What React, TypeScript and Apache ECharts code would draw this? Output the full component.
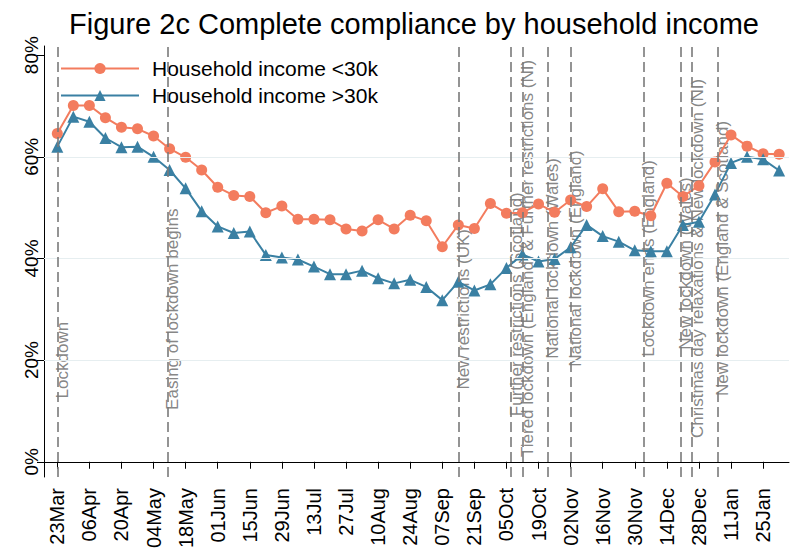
import React, { useEffect, useRef } from 'react';
import * as echarts from 'echarts';

// Survey wave dates (weekly)
const waveDates = [
  '2020-03-23', '2020-03-30', '2020-04-06', '2020-04-13', '2020-04-20', '2020-04-27',
  '2020-05-04', '2020-05-11', '2020-05-18', '2020-05-25', '2020-06-01', '2020-06-08',
  '2020-06-15', '2020-06-22', '2020-06-29', '2020-07-06', '2020-07-13', '2020-07-20',
  '2020-07-27', '2020-08-03', '2020-08-10', '2020-08-17', '2020-08-24', '2020-08-31',
  '2020-09-07', '2020-09-14', '2020-09-21', '2020-09-28', '2020-10-05', '2020-10-12',
  '2020-10-19', '2020-10-26', '2020-11-02', '2020-11-09', '2020-11-16', '2020-11-23',
  '2020-11-30', '2020-12-07', '2020-12-14', '2020-12-21', '2020-12-28', '2021-01-04',
  '2021-01-11', '2021-01-18', '2021-01-25', '2021-02-01',
];

// Complete compliance (%), household income <30k
const incomeUnder30k = [
  64.6, 70.1, 70.1, 67.7, 65.8, 65.5, 64.1, 61.6, 59.9, 57.4,
  54.0, 52.4, 52.2, 49.0, 50.3, 47.7, 47.7, 47.6, 45.8, 45.4,
  47.6, 45.8, 48.5, 47.4, 42.3, 46.6, 45.9, 50.8, 48.9, 49.0,
  50.7, 49.1, 51.5, 50.2, 53.7, 49.2, 49.3, 48.4, 54.8, 52.2,
  54.3, 59.0, 64.3, 62.1, 60.6, 60.5,
];

// Complete compliance (%), household income >30k
const incomeOver30k = [
  62.0, 67.9, 66.9, 63.7, 61.9, 62.0, 60.0, 57.4, 53.8, 49.3,
  46.3, 45.0, 45.3, 40.7, 40.2, 39.8, 38.4, 36.9, 36.9, 37.6,
  36.1, 35.1, 35.8, 34.4, 31.8, 35.4, 33.7, 34.9, 38.1, 40.8,
  39.4, 39.9, 42.2, 46.6, 44.4, 43.3, 41.6, 41.4, 41.4, 46.6,
  47.2, 52.6, 58.8, 60.0, 59.5, 57.3,
];

// X-axis tick dates (two-weekly)
const xTickDates = [
  '2020-03-23', '2020-04-06', '2020-04-20', '2020-05-04', '2020-05-18', '2020-06-01',
  '2020-06-15', '2020-06-29', '2020-07-13', '2020-07-27', '2020-08-10', '2020-08-24',
  '2020-09-07', '2020-09-21', '2020-10-05', '2020-10-19', '2020-11-02', '2020-11-16',
  '2020-11-30', '2020-12-14', '2020-12-28', '2021-01-11', '2021-01-25',
];
const monthNames = ['Jan', 'Feb', 'Mar', 'Apr', 'May', 'Jun', 'Jul', 'Aug', 'Sep', 'Oct', 'Nov', 'Dec'];

// Y-axis ticks and gridlines (%)
const yTicks = [0, 20, 40, 60, 80];
const yGridValues = [20, 40, 60];

// Policy events
const eventDates = [
  '2020-03-23', '2020-05-10', '2020-09-14', '2020-10-07', '2020-10-12', '2020-10-23',
  '2020-11-02', '2020-12-04', '2020-12-20', '2020-12-25', '2021-01-05',
];
const eventLabels = [
  'Lockdown',
  'Easing of lockdown begins',
  'New restrictions (UK)',
  'Further restrictions (Scotland)',
  'Tiered lockdown (England) & Further restrictions (NI)',
  'National lockdown (Wales)',
  'National lockdown (England)',
  'Lockdown ends (England)',
  'New lockdown (Wales)',
  'Christmas day relaxations & New lockdown (NI)',
  'New lockdown (England & Scotland)',
];
const eventLabelLevels = [20, 30, 30, 31, 40, 40, 40, 40, 39, 40, 40];

const DAY = 86400000;
function toTime(s: string): number {
  const [y, m, d] = s.split('-').map(Number);
  return Date.UTC(y, m - 1, d);
}
function fmtDate(v: number): string {
  const d = new Date(v);
  const dd = String(d.getUTCDate()).padStart(2, '0');
  return dd + monthNames[d.getUTCMonth()];
}

const FONT = "'Liberation Sans', Arial, sans-serif";
const RED = '#f37c5e';
const BLUE = '#3a80a3';

export default function App() {
  const ref = useRef<HTMLDivElement>(null);
  useEffect(() => {
    if (!ref.current) return;
    const chart = echarts.init(ref.current, null, { renderer: 'svg' });
    const xTicks = xTickDates.map(toTime);
    const xMin = toTime(waveDates[0]) - 5.8 * DAY;
    const xMax = toTime(waveDates[waveDates.length - 1]) + 4.3 * DAY;

    chart.setOption({
      animation: false,
      backgroundColor: '#ffffff',
      textStyle: { fontFamily: FONT },
      title: {
        text: 'Figure 2c Complete compliance by household income',
        left: 69,
        top: 9,
        padding: 0,
        textStyle: { fontFamily: FONT, fontSize: 29, fontWeight: 'normal', color: '#000' },
      },
      legend: {
        data: ['Household income <30k', 'Household income >30k'],
        orient: 'vertical',
        left: 55,
        top: 53,
        itemWidth: 78,
        itemHeight: 14,
        itemGap: 6,
        textStyle: { fontFamily: FONT, fontSize: 21, color: '#000', padding: [0, 0, 0, 8] },
      },
      grid: { left: 44, right: 3, top: 46, bottom: 80, containLabel: false },
      xAxis: {
        type: 'value',
        min: xMin,
        max: xMax,
        axisLine: { show: true, lineStyle: { color: '#000', width: 1 } },
        axisTick: { show: true, length: 7, customValues: xTicks, lineStyle: { color: '#000' } },
        axisLabel: {
          customValues: xTicks,
          formatter: (v: number) => fmtDate(v),
          rotate: 90,
          fontSize: 20,
          color: '#000',
          margin: 11,
          fontFamily: FONT,
          hideOverlap: false,
        },
        splitLine: { show: false },
      },
      yAxis: {
        type: 'value',
        min: -3,
        max: 81.8,
        axisLine: { show: true, lineStyle: { color: '#000', width: 1 } },
        axisTick: { show: true, length: 7, customValues: yTicks, lineStyle: { color: '#000' } },
        axisLabel: {
          customValues: yTicks,
          formatter: '{value}%',
          rotate: 90,
          fontSize: 19,
          color: '#000',
          margin: 3,
          fontFamily: FONT,
        },
        splitLine: { show: false },
      },
      series: [
        {
          name: 'events',
          type: 'scatter',
          z: 1,
          symbolSize: 1,
          itemStyle: { color: 'rgba(0,0,0,0)' },
          silent: true,
          data: eventDates.map((d, i) => ({ value: [toTime(d), eventLabelLevels[i]], name: eventLabels[i] })),
          label: {
            show: true,
            formatter: '{b}',
            position: 'inside',
            rotate: 90,
            offset: [0, 5],
            fontSize: 17,
            color: '#666',
            fontFamily: FONT,
          },
          markLine: {
            silent: true,
            symbol: ['none', 'none'],
            label: { show: false },
            animation: false,
            data: [
              ...yGridValues.map((v) => ({ yAxis: v, lineStyle: { type: 'solid', color: '#e6eef0', width: 1.2 } })),
              ...eventDates.map((d) => ({ xAxis: toTime(d), lineStyle: { type: [10, 5], color: '#7a7a7a', width: 1.6 } })),
            ],
          },
        },
        {
          name: 'Household income <30k',
          type: 'line',
          z: 3,
          data: waveDates.map((d, i) => [toTime(d), incomeUnder30k[i]]),
          symbol: 'circle',
          symbolSize: 11,
          color: RED,
          lineStyle: { width: 2, color: RED },
          itemStyle: { color: RED },
        },
        {
          name: 'Household income >30k',
          type: 'line',
          z: 3,
          data: waveDates.map((d, i) => [toTime(d), incomeOver30k[i]]),
          symbol: 'triangle',
          symbolSize: 12,
          color: BLUE,
          lineStyle: { width: 2, color: BLUE },
          itemStyle: { color: BLUE },
        },
      ],
    });
    return () => chart.dispose();
  }, []);
  return <div ref={ref} style={{ position: 'fixed', left: 0, top: 0, width: 792, height: 557, background: '#fff' }} />;
}
